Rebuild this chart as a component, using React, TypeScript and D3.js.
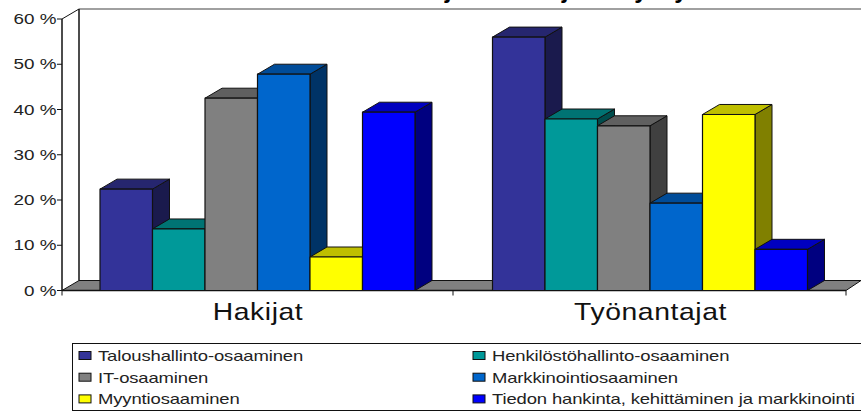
import React from "react";
import * as d3 from "d3";

const groups = ["Hakijat", "Työnantajat"];
const seriesNames = [
  "Taloushallinto-osaaminen",
  "Henkilöstöhallinto-osaaminen",
  "IT-osaaminen",
  "Markkinointiosaaminen",
  "Myyntiosaaminen",
  "Tiedon hankinta, kehittäminen ja markkinointi",
];
const hakijat = [22.4, 13.6, 42.5, 47.8, 7.4, 39.4];
const tyonantajat = [56, 37.9, 36.4, 19.3, 38.9, 9.1];
const fronts = ["#333399", "#009999", "#808080", "#0066CC", "#FFFF00", "#0000FF"];
const tops = ["#26266F", "#007373", "#606060", "#004C99", "#BFBF00", "#0000BF"];
const sides = ["#1A1A4D", "#004D4D", "#404040", "#003366", "#808000", "#000080"];
const yTicks = [0, 10, 20, 30, 40, 50, 60];
// Only the descenders of the cropped title are visible in the reference.
const titleGlyphs = ["j", "j", "y", "y"];
const titleGlyphX = [448, 565, 641, 681];
const font = "Liberation Sans, Arial, sans-serif";

export default function App() {
  const x0 = d3.scaleBand().domain(groups).range([62, 846]);
  const x1 = d3.scaleBand<number>().domain(d3.range(6)).range([38, 353]);
  const y = d3.scaleLinear().domain([0, 60]).range([290.5, 19]);
  const dx = 17;
  const dy = -10;
  const bars = [hakijat, tyonantajat].flatMap((vals, g) =>
    vals.map((v, i) => ({ g, i, v, x: x0(groups[g])! + x1(i)! + (g === 1 ? 0.5 : 0), w: x1.bandwidth() }))
  );
  const legendRows = [
    [0, 1],
    [2, 3],
    [4, 5],
  ];
  return (
    <svg
      width={861}
      height={412}
      style={{ position: "fixed", left: 0, top: 0, background: "#fff", display: "block" }}
      fontFamily={font}
    >
      {titleGlyphs.map((g, i) => (
        <text key={i} x={titleGlyphX[i]} y={-2} textAnchor="middle" fontSize={24} fontWeight="bold" fill="#000">
          {g}
        </text>
      ))}
      {/* walls */}
      <line x1={79} y1={9} x2={861} y2={9} stroke="#808080" strokeWidth={1.5} />
      <line x1={79} y1={9} x2={79} y2={y(0) + dy} stroke="#111" strokeWidth={1.5} />
      <line x1={62} y1={y(60)} x2={79} y2={9} stroke="#111" strokeWidth={1} />
      <line x1={62} y1={y(60)} x2={62} y2={y(0)} stroke="#111" strokeWidth={1.5} />
      <path
        d={`M62,${y(0)} L${62 + dx},${y(0) + dy} L861,${y(0) + dy} L846,${y(0)} Z`}
        fill="#808080"
        stroke="#111"
        strokeWidth={1}
      />
      {yTicks.map((t) => (
        <g key={t}>
          <line x1={57} x2={62} y1={y(t)} y2={y(t)} stroke="#111" />
          <text
            transform={`translate(56.5,${y(t) + 5}) scale(1.3,1)`}
            textAnchor="end"
            fontSize={14.5}
            fill="#222"
          >
            {t} %
          </text>
        </g>
      ))}
      <line x1={62} x2={846} y1={y(0)} y2={y(0)} stroke="#111" strokeWidth={1.5} />
      {[62, 453, 846].map((t) => (
        <line key={t} x1={t} x2={t} y1={y(0)} y2={y(0) + 5} stroke="#111" />
      ))}
      {bars.map((b) => {
        const top = y(b.v);
        const r = b.x + b.w;
        return (
          <g key={`${b.g}-${b.i}`} stroke="#111" strokeWidth={1} strokeLinejoin="round">
            <path
              d={`M${r},${top} L${r + dx},${top + dy} L${r + dx},${y(0) + dy} L${r},${y(0)} Z`}
              fill={sides[b.i]}
            />
            <path
              d={`M${b.x},${top} L${b.x + dx},${top + dy} L${r + dx},${top + dy} L${r},${top} Z`}
              fill={tops[b.i]}
            />
            <rect x={b.x} y={top} width={b.w} height={y(0) - top} fill={fronts[b.i]} strokeWidth={1.2} />
          </g>
        );
      })}
      {groups.map((g, i) => (
        <text
          key={g}
          transform={`translate(${[258, 650.5][i]},320) scale(1.18,1)`}
          textAnchor="middle"
          fontSize={24}
          letterSpacing={0.5}
          fill="#111"
        >
          {g}
        </text>
      ))}
      <rect x={72.5} y={343.5} width={790} height={67} fill="#fff" stroke="#111" strokeWidth={1} />
      {legendRows.map((row, r) =>
        row.map((s, c) => (
          <g key={s}>
            <rect
              x={[79, 473][c]}
              y={351.5 + r * 21.7}
              width={12}
              height={8}
              fill={fronts[s]}
              stroke="#111"
              strokeWidth={1}
            />
            <text
              transform={`translate(${[98, 492][c]},${361 + r * 21.7}) scale(1.23,1)`}
              fontSize={15}
              fill="#222"
              letterSpacing={-0.1}
            >
              {seriesNames[s]}
            </text>
          </g>
        ))
      )}
    </svg>
  );
}
